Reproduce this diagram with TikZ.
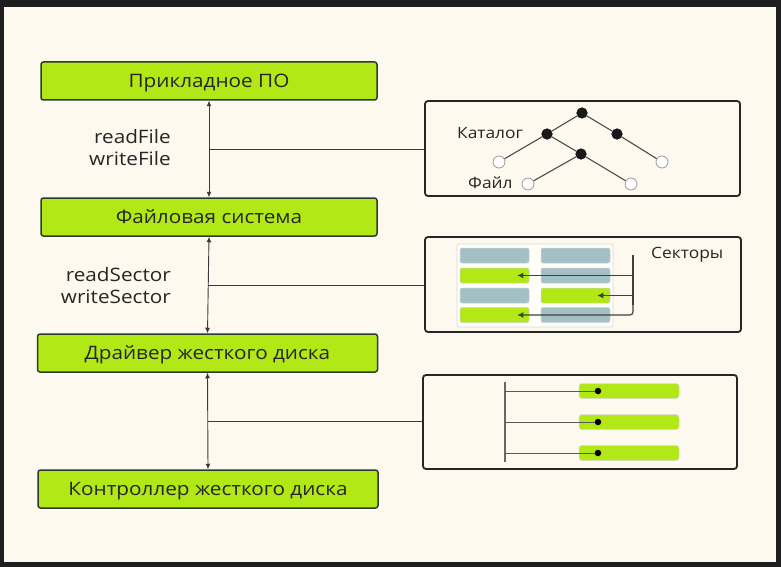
\documentclass[tikz,border=0pt]{standalone}
\usepackage{fontspec}
\setmainfont{Open Sans}[FakeStretch=1.12]
\usetikzlibrary{arrows.meta,calc}
\definecolor{bg}{HTML}{FEF9EE}
\definecolor{framec}{HTML}{1E1E1E}
\definecolor{lime}{HTML}{B3E817}
\definecolor{edgec}{HTML}{2C3A33}
\definecolor{secc}{HTML}{A3C1C5}
\definecolor{lnc}{HTML}{3A3A3A}
\tikzset{
  mainbox/.style={draw=edgec, line width=1.5pt, fill=lime, rounded corners=2.5pt,
    minimum height=38pt, inner sep=0pt, text height=13pt, text depth=0pt,
    font=\fontsize{18.5}{20}\selectfont, text=black!85},
  panel/.style={draw=black!85, line width=1.8pt, rounded corners=3pt, inner sep=0pt},
  conn/.style={draw=lnc, line width=0.9pt},
  dbl/.style={conn, {Latex[length=5.5pt,width=5pt]}-{Latex[length=5.5pt,width=5pt]}},
  lbl/.style={font=\fontsize{18.5}{22}\selectfont, align=right, text=black!85, inner sep=0pt},
  small/.style={font=\fontsize{15.5}{18}\selectfont, text=black!85, inner sep=0pt},
  bdot/.style={circle, fill=black!90, minimum size=11pt, inner sep=0pt},
  wdot/.style={circle, draw=black!40, fill=white, line width=0.8pt, minimum size=12pt, inner sep=0pt},
  treeedge/.style={draw=black!70, line width=1.1pt},
  sector/.style={draw=black!18, line width=0.5pt, rounded corners=2pt, minimum width=69pt, minimum height=15pt, inner sep=0pt},
  bar/.style={draw=black!15, line width=0.5pt, fill=lime, rounded corners=3pt, minimum width=100pt, minimum height=15pt, inner sep=0pt},
  sline/.style={draw=black!75, line width=1.2pt},
  tip/.style={sline, -{Latex[length=6pt,width=6pt]}},
  sdot/.style={circle, fill=black, minimum size=6.5pt, inner sep=0pt},
}
\begin{document}
\begin{tikzpicture}[x=1pt,y=-1pt]
\useasboundingbox (0,0) rectangle (781,567);
\fill[framec] (0,0) rectangle (781,567);
\fill[bg] (4,7) rectangle (776,562);

% main boxes
\node[mainbox, minimum width=336pt] (po) at (209,81) {Прикладное ПО};
\node[mainbox, minimum width=336pt] (fs) at (209,217) {Файловая система};
\node[mainbox, minimum width=340pt] (drv) at (207.5,353) {Драйвер жесткого диска};
\node[mainbox, minimum width=340pt] (ctl) at (208,489) {Контроллер жесткого диска};

% panels
\node[panel, minimum width=315pt, minimum height=95pt] (catbox) at (582.5,148.5) {};
\node[panel, minimum width=316pt, minimum height=95pt] (secbox) at (583,284.5) {};
\node[panel, minimum width=314pt, minimum height=94pt] (drvbox) at (580,422) {};

% vertical arrows
\draw[dbl] (po.south) -- (fs.north);
\draw[dbl] (fs.south) -- (drv.north);
\draw[dbl] (drv.south) -- (ctl.north);
\coordinate (m1) at ($(po.south)!0.5!(fs.north)$);
\coordinate (m2) at ($(fs.south)!0.5!(drv.north)$);
\coordinate (m3) at ($(drv.south)!0.5!(ctl.north)$);
\draw[conn] (m1) -- (m1 -| catbox.west);
\draw[conn] (m2) -- (m2 -| secbox.west);
\draw[conn] (m3) -- (m3 -| drvbox.west);

% labels
\node[lbl, anchor=east] (l1) at (171,148) {readFile\\writeFile};
\node[lbl, anchor=east] (l2) at (171,286) {readSector\\writeSector};

% tree
\node[bdot] (t0) at (582,113) {};
\node[bdot] (t1) at (547,134) {};
\node[bdot] (t2) at (617,134) {};
\node[bdot] (t3) at (581,154) {};
\node[wdot] (w1) at (499,162) {};
\node[wdot] (w2) at (662,162) {};
\node[wdot] (w3) at (528,184) {};
\node[wdot] (w4) at (631,184) {};
\draw[treeedge] (t0) -- (t1) (t0) -- (t2) (t1) -- (w1) (t1) -- (t3) (t2) -- (w2) (t3) -- (w3) (t3) -- (w4);
\node[bdot] at (t0) {};
\node[bdot] at (t1) {};
\node[bdot] at (t2) {};
\node[bdot] at (t3) {};
\node[small, anchor=west] (kat) at (457,133) {Каталог};
\node[small, anchor=west] (fil) at (468,183) {Файл};

% sectors
\node[draw=black!15, line width=0.8pt, fill=white!60!bg, rounded corners=2pt, minimum width=156pt, minimum height=83pt, inner sep=0pt] (grid) at (535,285.5) {};
\node[sector, fill=secc] (s11) at (494.5,255.5) {};
\node[sector, fill=secc] (s12) at (575.5,255.5) {};
\node[sector, fill=lime] (s21) at (494.5,275.5) {};
\node[sector, fill=secc] (s22) at (575.5,275.5) {};
\node[sector, fill=secc] (s31) at (494.5,295.5) {};
\node[sector, fill=lime] (s32) at (575.5,295.5) {};
\node[sector, fill=lime] (s41) at (494.5,315) {};
\node[sector, fill=secc] (s42) at (575.5,315) {};
\coordinate (vtop) at (633,255);
\draw[sline] (vtop) -- (633,305);
\draw[tip] (633,275.5) -- ($(s21.east)+(-12,0)$);
\draw[tip] (633,295.5) -- ($(s32.east)+(-13,0)$);
\draw[tip, rounded corners=3pt] (633,300) -- (633,315) -- ($(s41.east)+(-12,0)$);
\node[small, anchor=west] (sek) at (651,255) {Секторы};

% driver panel
\coordinate (dtop) at (505,382);
\coordinate (dbot) at (505,462);
\draw[draw=black!60, line width=1.3pt] (dtop) -- (dbot);
\node[bar] (b1) at (629,391) {};
\node[bar] (b2) at (629,422) {};
\node[bar] (b3) at (629,453) {};
\node[sdot] (d1) at (598,391) {};
\node[sdot] (d2) at (598,422) {};
\node[sdot] (d3) at (598,453) {};
\draw[draw=black!65, line width=1pt] (d1 -| dtop) -- (d1);
\draw[draw=black!65, line width=1pt] (d2 -| dtop) -- (d2);
\draw[draw=black!65, line width=1pt] (d3 -| dtop) -- (d3);
\end{tikzpicture}
\end{document}
